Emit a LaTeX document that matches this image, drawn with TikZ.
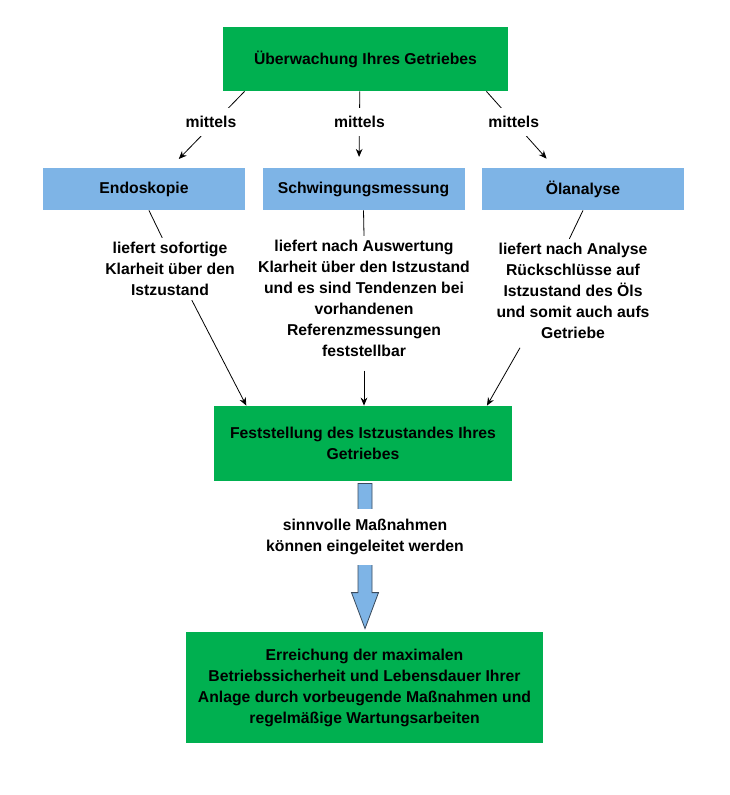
\documentclass[tikz,border=0pt]{standalone}
\usepackage{fontspec}
\setmainfont{Liberation Sans}
\usetikzlibrary{arrows.meta,positioning,calc}
\definecolor{boxgreen}{HTML}{00B050}
\definecolor{boxblue}{HTML}{7EB4E6}
\definecolor{arrowedge}{HTML}{3A4A5C}

\begin{document}
\begin{tikzpicture}[
  x=0.75pt, y=-0.75pt,
  every node/.style={font=\bfseries\fontsize{11.8}{15.75}\selectfont},
  gbox/.style={rectangle, fill=boxgreen, align=center, inner sep=2pt},
  bbox/.style={rectangle, fill=boxblue, minimum width=151.5pt, minimum height=31.5pt},
  txt/.style={align=center, inner sep=3pt},
  lbl/.style={fill=white, inner sep=6pt, pos=0.4},
  >={Stealth[length=6pt,width=5pt]}, line width=0.6pt
]
  \useasboundingbox (0,0) rectangle (730,795);

  \node[gbox, minimum width=213.75pt, minimum height=48pt] (ueber) at (365.5,59) {Überwachung Ihres Getriebes};
  \node[bbox] (endo) at (144,189) {Endoskopie};
  \node[bbox] (schw) at (363.5,189) {Schwingungsmessung};
  \node[bbox] (oel) at (583,189) {Ölanalyse};
  \node[txt] (endotxt) at (170,269) {liefert sofortige\\Klarheit über den\\Istzustand};
  \node[txt] (schwtxt) at (364,298.5) {liefert nach Auswertung\\Klarheit über den Istzustand\\und es sind Tendenzen bei\\vorhandenen\\Referenzmessungen\\feststellbar};
  \node[txt] (oeltxt) at (573,291) {liefert nach Analyse\\Rückschlüsse auf\\Istzustand des Öls\\und somit auch aufs\\Getriebe};
  \node[gbox, minimum width=223.5pt, minimum height=56.25pt] (fest) at (363,443.5) {Feststellung des Istzustandes Ihres\\Getriebes};
  \node[gbox, minimum width=267.75pt, minimum height=83.25pt] (erre) at (364.5,687.5) {Erreichung der maximalen\\Betriebssicherheit und Lebensdauer Ihrer\\Anlage durch vorbeugende Maßnahmen und\\regelmäßige Wartungsarbeiten};

  \draw[->, shorten >=9pt] (ueber.-165) -- node[lbl, xshift=-3pt] {mittels} (endo.39);
  \draw[->, shorten >=8pt] (ueber.-100) -- node[lbl] {mittels} (schw.102);
  \draw[->, shorten >=9pt] (ueber.-15) -- node[lbl] {mittels} (oel.143);

  \draw (endo.-77) -- (endotxt.104);
  \draw[->] (endotxt.-55) -- (fest.162);
  \draw (schw.south) -- (schwtxt.north);
  \draw[->, shorten <=7pt] (schwtxt.south) -- (schwtxt.south |- fest.north);
  \draw (oel.south) -- (oeltxt.94);
  \draw[->, shorten <=4pt] (oeltxt.-134) -- (fest.17);

  % block arrow
  \coordinate (bt) at ($(fest.south)+(2,2)$);
  \coordinate (bb) at ($(erre.north)+(0.5,-3)$);
  \filldraw[fill=boxblue, draw=arrowedge] ($(bt)+(-7,0)$) -- ($(bt)+(7,0)$) -- ($(bb)+(7,-36)$)
    -- ($(bb)+(13.5,-36)$) -- (bb) -- ($(bb)+(-13.5,-36)$) -- ($(bb)+(-7,-36)$) -- cycle;
  \node[fill=white, align=center, inner xsep=4pt, minimum height=42pt] (mass) at ($(bt)!0.37!(bb)$)
    {sinnvolle Maßnahmen\\können eingeleitet werden};
\end{tikzpicture}
\end{document}
